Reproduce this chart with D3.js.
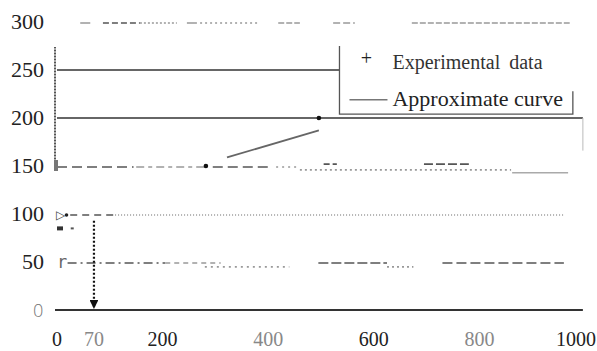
<!DOCTYPE html>
<html>
<head>
<meta charset="utf-8">
<script src="https://cdn.jsdelivr.net/npm/d3@7"></script>
<style>
  body { margin: 0; background: #fff; }
  svg { display: block; }
</style>
</head>
<body>
<div id="canvas"></div>
<script>
"use strict"

// chart data
let yTicks = [0, 50, 100, 150, 200, 250, 300];
let xTicks = [0, 70, 200, 400, 600, 800, 1000];
let xTickLabels = ["0", "70", "200", "400", "600", "800", "1000"];
let xTickGray = [false, true, false, true, false, true, false];

// faint dashed guide rows: [level, startX, endX, dash pattern, dark?]
let guideRows = [
    [300, 44, 63, "8,0", false],
    [300, 87, 157, "6,3", true],
    [300, 157, 227, "2,2", false],
    [300, 246, 265, "8,0", false],
    [300, 271, 384, "2,3", false],
    [300, 419, 460, "6,2", false],
    [300, 523, 564, "7,3", false],
    [300, 672, 971, "6,2", false],
    [150, 0, 145, "10,5", true],
    [150, 150, 282, "8,4,4,4", false],
    [150, 295, 405, "10,5", true],
    [150, 415, 460, "2,4", false],
    [147, 460, 860, "2,3", false],
    [153, 505, 530, "6,3", true],
    [153, 695, 780, "9,3", true],
    [100, 25, 110, "7,5", true],
    [100, 110, 960, "1,2", false],
    [50, 20, 205, "9,4,2,4", true],
    [50, 205, 310, "5,4", false],
    [46, 280, 440, "2,4", false],
    [50, 495, 625, "10,3", true],
    [46, 625, 675, "2,3", false],
    [50, 730, 960, "10,4", true]
];

// solid reference lines: [level, startX, endX]
let refLines = [
    [250, 0, 535],
    [200, 0, 996]
];

let experimentalX = [282, 496];
let experimentalY = [150, 200];

let curveX = [322, 496];
let curveY = [159, 187];

let arrowX = 70;
let arrowFrom = 93;
let arrowTo = 0;

let legendItems = ["Experimental data", "Approximate curve"];

let svgWidth = 597;
let svgHeight = 351;

let svg = d3.select("#canvas")
    .append("svg")
    .attr("width", svgWidth)
    .attr("height", svgHeight);

let xScale = d3.scaleLinear().domain([0, 1000]).range([57, 585]);
let yScale = d3.scaleLinear().domain([0, 300]).range([310, 22]);

let serif = "'Liberation Serif', 'DejaVu Serif', serif";

// y tick labels
svg.selectAll("text.ylab")
    .data(yTicks)
    .join("text")
    .attr("class", "ylab")
    .attr("x", 44)
    .attr("y", function(d) { return yScale(d) + 7; })
    .attr("text-anchor", "end")
    .style("font-family", function(d) { return d === 0 ? "'DejaVu Sans'" : serif; })
    .style("font-weight", function(d) { return d === 0 ? "200" : "normal"; })
    .style("font-size", function(d) { return d === 0 ? "18px" : "22px"; })
    .attr("fill", function(d) { return d === 0 ? "#777" : "#222"; })
    .text(function(d) { return d; });

// x tick labels (last one pushed against the right edge)
svg.selectAll("text.xlab")
    .data(xTicks)
    .join("text")
    .attr("class", "xlab")
    .attr("x", function(d) { return d === 1000 ? 596 : xScale(d); })
    .attr("y", 346)
    .attr("text-anchor", function(d) { return d === 1000 ? "end" : "middle"; })
    .style("font-family", serif)
    .style("font-size", "20px")
    .attr("fill", function(d, i) { return xTickGray[i] ? "#888" : "#222"; })
    .text(function(d, i) { return xTickLabels[i]; });

// guide rows
svg.selectAll("line.guide")
    .data(guideRows)
    .join("line")
    .attr("class", "guide")
    .attr("x1", function(d) { return xScale(d[1]); })
    .attr("x2", function(d) { return xScale(d[2]); })
    .attr("y1", function(d) { return yScale(d[0]) + 1; })
    .attr("y2", function(d) { return yScale(d[0]) + 1; })
    .attr("stroke", function(d) { return d[4] ? "#555" : "#999"; })
    .attr("stroke-width", 1.6)
    .attr("stroke-dasharray", function(d) { return d[3]; });

// short gray line below the 150 row
svg.append("line")
    .attr("x1", xScale(862)).attr("x2", xScale(968))
    .attr("y1", yScale(143)).attr("y2", yScale(143))
    .attr("stroke", "#aaa").attr("stroke-width", 1.5);

// solid reference lines
svg.selectAll("line.ref")
    .data(refLines)
    .join("line")
    .attr("class", "ref")
    .attr("x1", function(d) { return xScale(d[1]); })
    .attr("x2", function(d) { return xScale(d[2]); })
    .attr("y1", function(d) { return yScale(d[0]); })
    .attr("y2", function(d) { return yScale(d[0]); })
    .attr("stroke", "#333")
    .attr("stroke-width", 1.3);

// right edge of the 200 band
svg.append("line")
    .attr("x1", xScale(996)).attr("x2", xScale(996))
    .attr("y1", yScale(200)).attr("y2", yScale(166))
    .attr("stroke", "#bbb").attr("stroke-width", 1);

// left axis stub
svg.append("line")
    .attr("x1", xScale(0) - 2).attr("x2", xScale(0) - 2)
    .attr("y1", yScale(274)).attr("y2", yScale(155))
    .attr("stroke", "#555").attr("stroke-width", 2)
    .attr("stroke-dasharray", "1,0.5");

svg.append("rect")
    .attr("x", xScale(0) - 3).attr("y", yScale(150) - 6)
    .attr("width", 4).attr("height", 11)
    .attr("fill", "#777");

// x axis line
svg.append("line")
    .attr("x1", xScale(0) - 2).attr("x2", xScale(996))
    .attr("y1", yScale(0)).attr("y2", yScale(0))
    .attr("stroke", "#333").attr("stroke-width", 2);

// stray marks on the left side
svg.append("text")
    .attr("x", xScale(0) - 1).attr("y", yScale(100) + 5)
    .style("font-family", "'DejaVu Sans'").style("font-size", "12px")
    .attr("fill", "#444").text("▷");
svg.append("circle")
    .attr("cx", xScale(18)).attr("cy", yScale(100) + 1).attr("r", 1.8).attr("fill", "#222");
svg.append("text")
    .attr("x", xScale(0)).attr("y", yScale(50) + 6)
    .style("font-family", "'DejaVu Sans Mono'").style("font-size", "17px")
    .attr("fill", "#666").text("r");
svg.append("rect")
    .attr("x", xScale(0)).attr("y", yScale(85) - 2)
    .attr("width", 6).attr("height", 4).attr("fill", "#333");
svg.append("rect")
    .attr("x", xScale(26)).attr("y", yScale(85) - 1)
    .attr("width", 3).attr("height", 2).attr("fill", "#555");

// approximate curve
let lineGen = d3.line()
    .x(function(d) { return xScale(d[0]); })
    .y(function(d) { return yScale(d[1]); });

svg.append("path")
    .datum(d3.zip(curveX, curveY))
    .attr("d", lineGen)
    .attr("fill", "none")
    .attr("stroke", "#666")
    .attr("stroke-width", 1.8);

// experimental points
svg.selectAll("circle.exp")
    .data(d3.zip(experimentalX, experimentalY))
    .join("circle")
    .attr("class", "exp")
    .attr("cx", function(d) { return xScale(d[0]); })
    .attr("cy", function(d) { return yScale(d[1]); })
    .attr("r", 2.3)
    .attr("fill", "#111");

// dotted arrow at x = 70
svg.append("defs").append("marker")
    .attr("id", "arrow")
    .attr("viewBox", "0 0 10 10")
    .attr("refX", 9).attr("refY", 5)
    .attr("markerWidth", 4).attr("markerHeight", 4)
    .attr("orient", "auto")
    .append("path")
    .attr("d", "M0,0L10,5L0,10z")
    .attr("fill", "#111");

svg.append("line")
    .attr("x1", xScale(arrowX)).attr("x2", xScale(arrowX))
    .attr("y1", yScale(arrowFrom)).attr("y2", yScale(arrowTo) - 2)
    .attr("stroke", "#111")
    .attr("stroke-width", 2.2)
    .attr("stroke-dasharray", "2,2")
    .attr("marker-end", "url(#arrow)");

// legend box
let lgLeft = xScale(535);
let lgRight = xScale(977);
let lgTop = yScale(275);
let lgBottom = yScale(204);

svg.append("path")
    .attr("d", "M" + lgLeft + "," + lgTop + "V" + lgBottom + "H" + lgRight + "V" + (lgBottom - 23))
    .attr("fill", "none")
    .attr("stroke", "#555")
    .attr("stroke-width", 1.3);

svg.append("text")
    .attr("x", lgLeft + 27).attr("y", yScale(255))
    .attr("text-anchor", "middle")
    .style("font-family", serif).style("font-size", "20px")
    .attr("fill", "#222").text("+");

svg.append("text")
    .attr("x", lgLeft + 53).attr("y", yScale(251))
    .style("font-family", serif).style("font-size", "20px")
    .style("word-spacing", "4px")
    .attr("fill", "#333").text(legendItems[0]);

svg.append("line")
    .attr("x1", lgLeft + 10).attr("x2", lgLeft + 48)
    .attr("y1", yScale(219)).attr("y2", yScale(219))
    .attr("stroke", "#777").attr("stroke-width", 1.5);

svg.append("text")
    .attr("x", lgLeft + 53).attr("y", yScale(213))
    .style("font-family", serif).style("font-size", "22px")
    .attr("fill", "#222").text(legendItems[1]);
</script>
</body>
</html>
